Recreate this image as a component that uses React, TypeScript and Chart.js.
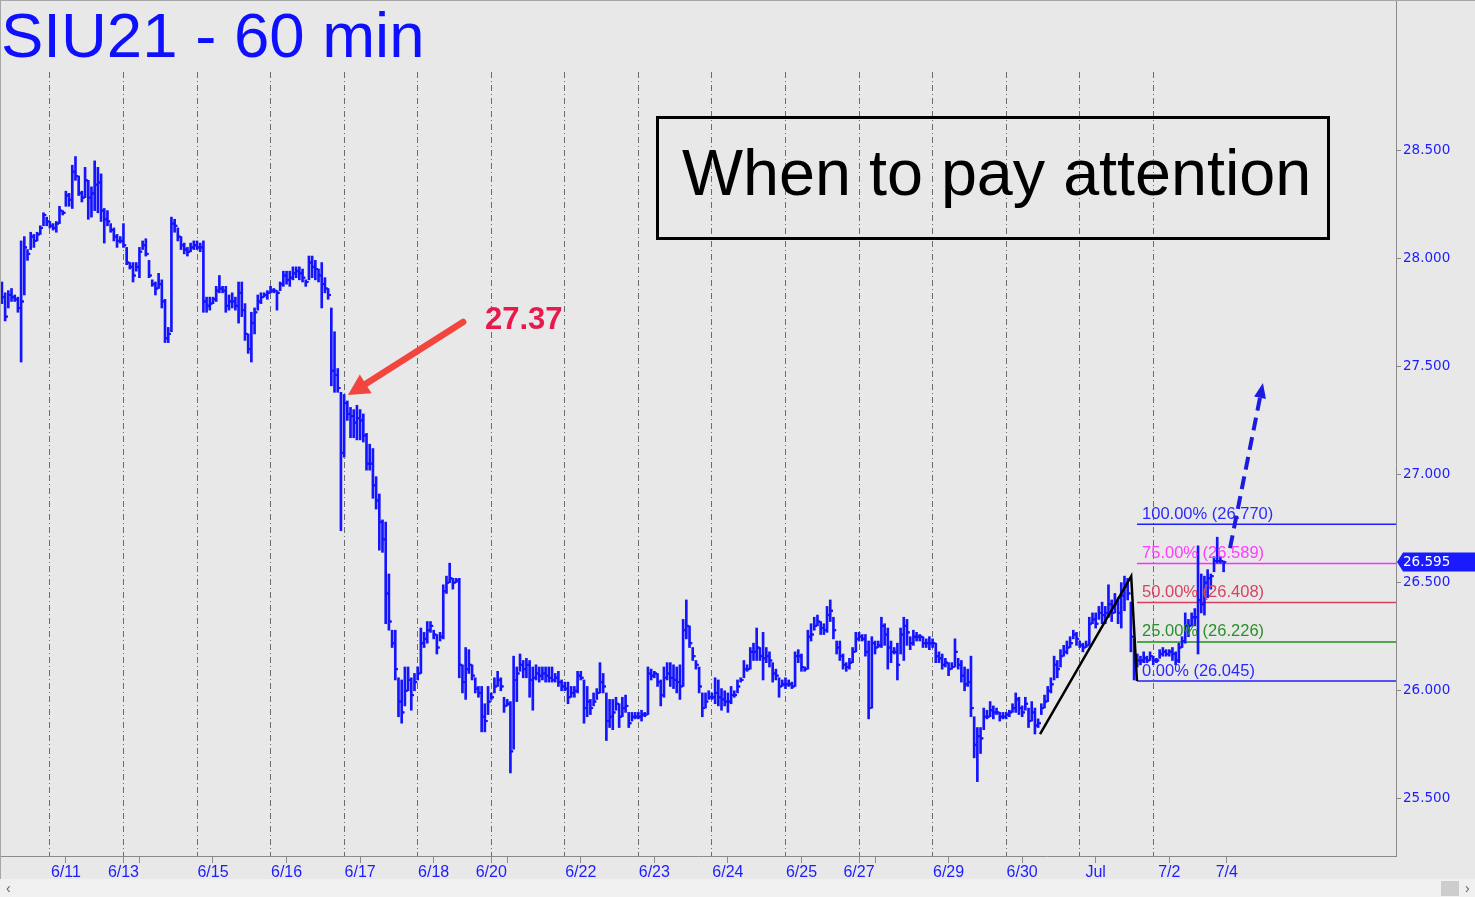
import React, { useEffect, useRef } from "react";
import { Chart, registerables } from "chart.js";

Chart.register(...registerables);

// ---- data (60-min bars, SIU21) ----
const FIRST_BAR_INDEX = -15;

const highs = [
  27.89, 27.84, 27.85, 27.86, 27.83, 27.82, 28.08, 28.10, 28.04, 28.12, 28.11, 28.12, 28.15, 28.21, 28.19,
  28.17, 28.16, 28.17, 28.24, 28.22, 28.31, 28.30, 28.43, 28.47, 28.38, 28.31, 28.42, 28.36, 28.33, 28.45, 28.42, 28.39, 28.23, 28.22, 28.16, 28.14, 28.11, 28.10,
  28.16, 28.05, 27.98, 27.98, 27.98, 28.05, 28.08, 28.09, 27.99, 27.90, 27.89, 27.93, 27.90, 27.81, 27.68, 28.19, 28.18, 28.14, 28.10, 28.07, 28.05, 28.07, 28.08,
  28.08, 28.07, 28.08, 27.82, 27.82, 27.82, 27.87, 27.92, 27.87, 27.87, 27.83, 27.84, 27.82, 27.89, 27.89, 27.79, 27.65, 27.75, 27.77, 27.83, 27.84, 27.84, 27.85,
  27.87, 27.86, 27.85, 27.89, 27.94, 27.94, 27.94, 27.96, 27.96, 27.96, 27.95, 27.90, 28.01, 28.01, 27.99, 27.95, 27.98, 27.91, 27.86, 27.77, 27.66, 27.49, 27.38,
  27.37, 27.34, 27.31, 27.30, 27.32, 27.30, 27.28, 27.19, 27.14, 27.12, 26.99, 26.91, 26.79, 26.78, 26.54, 26.28, 26.28, 26.06, 26.05, 26.11, 26.11, 26.06, 26.08,
  26.11, 26.29, 26.27, 26.32, 26.32, 26.28, 26.26, 26.27, 26.49, 26.53, 26.59, 26.52, 26.52, 26.52, 26.12, 26.20, 26.19, 26.12, 26.06, 26.02, 26.02, 25.94, 26.02,
  25.99, 26.06, 26.09, 26.06, 25.97, 25.96, 25.95, 26.16, 26.11, 26.17, 26.14, 26.15, 26.14, 26.11, 26.12, 26.11, 26.11, 26.11, 26.11, 26.11, 26.08, 26.09, 26.05,
  26.04, 26.04, 26.02, 26.02, 26.09, 26.09, 26.05, 26.02, 25.96, 25.99, 26.01, 26.13, 26.08, 25.99, 25.96, 25.96, 25.97, 25.94, 25.97, 25.98, 25.90, 25.90, 25.90,
  25.90, 25.91, 25.90, 26.11, 26.10, 26.09, 26.08, 26.05, 26.11, 26.13, 26.13, 26.12, 26.11, 26.12, 26.33, 26.42, 26.30, 26.20, 26.14, 26.11, 25.99, 25.99, 26.00,
  25.99, 26.06, 26.05, 26.01, 26.00, 25.99, 26.02, 26.00, 26.05, 26.06, 26.14, 26.12, 26.20, 26.22, 26.29, 26.20, 26.27, 26.20, 26.18, 26.13, 26.10, 26.06, 26.05,
  26.06, 26.05, 26.04, 26.18, 26.19, 26.17, 26.11, 26.28, 26.31, 26.34, 26.35, 26.32, 26.31, 26.39, 26.42, 26.34, 26.23, 26.23, 26.17, 26.13, 26.15, 26.20, 26.27,
  26.27, 26.26, 26.26, 26.23, 26.25, 26.23, 26.23, 26.34, 26.31, 26.29, 26.23, 26.20, 26.22, 26.29, 26.34, 26.33, 26.25, 26.28, 26.27, 26.26, 26.25, 26.24, 26.25,
  26.24, 26.22, 26.18, 26.17, 26.15, 26.13, 26.13, 26.24, 26.15, 26.14, 26.11, 26.10, 26.16, 25.88, 25.83, 25.83, 25.92, 25.91, 25.95, 25.93, 25.92, 25.90, 25.90,
  25.90, 25.91, 25.94, 25.99, 25.97, 25.93, 25.97, 25.92, 25.95, 25.92, 25.87, 25.94, 25.98, 26.02, 26.06, 26.16, 26.14, 26.19, 26.21, 26.23, 26.25, 26.28, 26.27,
  26.23, 26.22, 26.23, 26.34, 26.36, 26.36, 26.39, 26.41, 26.39, 26.49, 26.42, 26.45, 26.43, 26.50, 26.53, 26.52, 26.41, 26.24, 26.17, 26.16, 26.18, 26.16, 26.18,
  26.16, 26.15, 26.19, 26.20, 26.19, 26.19, 26.20, 26.18, 26.22, 26.25, 26.36, 26.33, 26.36, 26.38, 26.67, 26.54, 26.53, 26.56, 26.54, 26.62, 26.71, 26.62, 26.60,
];

const lows = [
  27.79, 27.71, 27.77, 27.80, 27.80, 27.75, 27.52, 27.83, 27.99, 28.04, 28.05, 28.08, 28.11, 28.15, 28.15,
  28.14, 28.13, 28.12, 28.16, 28.20, 28.24, 28.24, 28.23, 28.36, 28.29, 28.26, 28.28, 28.18, 28.19, 28.22, 28.21, 28.17, 28.07, 28.15, 28.12, 28.08, 28.05, 28.07,
  28.05, 27.97, 27.95, 27.89, 27.94, 27.91, 28.04, 28.01, 27.91, 27.87, 27.83, 27.86, 27.77, 27.61, 27.61, 27.66, 28.12, 28.08, 28.04, 28.02, 28.01, 28.03, 28.04,
  28.04, 28.03, 27.75, 27.75, 27.76, 27.79, 27.80, 27.84, 27.84, 27.75, 27.76, 27.77, 27.76, 27.70, 27.73, 27.62, 27.56, 27.52, 27.65, 27.76, 27.79, 27.82, 27.81,
  27.84, 27.84, 27.76, 27.85, 27.87, 27.88, 27.87, 27.90, 27.91, 27.90, 27.89, 27.87, 27.90, 27.91, 27.90, 27.89, 27.77, 27.84, 27.81, 27.41, 27.38, 27.38, 26.74,
  27.08, 27.25, 27.17, 27.17, 27.16, 27.16, 27.15, 27.02, 27.02, 26.89, 26.84, 26.65, 26.64, 26.31, 26.28, 26.20, 26.05, 25.88, 25.85, 25.93, 26.00, 25.91, 26.00,
  26.05, 26.08, 26.20, 26.22, 26.27, 26.24, 26.17, 26.23, 26.24, 26.45, 26.50, 26.47, 26.50, 26.06, 25.99, 25.96, 26.08, 26.05, 25.99, 25.97, 25.81, 25.81, 25.89,
  25.96, 25.99, 26.02, 26.00, 25.90, 25.93, 25.62, 25.73, 25.95, 26.09, 26.06, 26.06, 25.97, 25.91, 26.05, 26.04, 26.05, 26.04, 26.04, 26.04, 26.04, 26.02, 26.00,
  26.00, 25.94, 25.97, 25.97, 25.99, 26.05, 25.85, 25.88, 25.89, 25.93, 25.96, 25.99, 25.99, 25.77, 25.83, 25.82, 25.91, 25.83, 25.88, 25.90, 25.83, 25.86, 25.87,
  25.87, 25.86, 25.88, 25.89, 26.05, 26.06, 26.02, 25.93, 25.97, 26.05, 26.02, 26.01, 25.99, 25.96, 26.02, 26.24, 26.20, 26.14, 26.10, 25.99, 25.88, 25.92, 25.96,
  25.96, 25.94, 25.93, 25.91, 25.93, 25.90, 25.94, 25.97, 25.99, 26.04, 26.06, 26.09, 26.10, 26.14, 26.14, 26.14, 26.05, 26.13, 26.11, 26.04, 26.05, 25.97, 26.02,
  26.01, 26.02, 26.01, 26.02, 26.13, 26.09, 26.09, 26.10, 26.23, 26.28, 26.30, 26.26, 26.26, 26.27, 26.32, 26.24, 26.17, 26.14, 26.10, 26.09, 26.10, 26.13, 26.18,
  26.23, 26.23, 26.16, 25.87, 25.92, 26.17, 26.20, 26.20, 26.21, 26.10, 26.13, 26.17, 26.05, 26.17, 26.14, 26.21, 26.19, 26.21, 26.23, 26.23, 26.20, 26.20, 26.19,
  26.20, 26.13, 26.13, 26.10, 26.11, 26.07, 26.10, 26.11, 26.10, 26.04, 26.00, 26.02, 25.88, 25.69, 25.58, 25.71, 25.82, 25.87, 25.88, 25.87, 25.89, 25.86, 25.87,
  25.87, 25.88, 25.90, 25.90, 25.89, 25.88, 25.91, 25.83, 25.86, 25.80, 25.83, 25.89, 25.92, 25.95, 25.99, 26.05, 26.06, 26.11, 26.16, 26.17, 26.20, 26.24, 26.21,
  26.20, 26.18, 26.20, 26.21, 26.31, 26.29, 26.33, 26.31, 26.31, 26.34, 26.32, 26.36, 26.31, 26.29, 26.37, 26.42, 26.18, 26.05, 26.11, 26.12, 26.13, 26.13, 26.14,
  26.12, 26.13, 26.15, 26.16, 26.16, 26.16, 26.14, 26.12, 26.13, 26.20, 26.22, 26.25, 26.30, 26.30, 26.17, 26.36, 26.35, 26.43, 26.47, 26.55, 26.59, 26.59, 26.55,
];

const closes = [
  27.82, 27.73, 27.83, 27.82, 27.81, 27.77, 27.80, 28.05, 28.02, 28.10, 28.08, 28.11, 28.14, 28.20, 28.17,
  28.15, 28.14, 28.16, 28.22, 28.21, 28.29, 28.27, 28.40, 28.38, 28.30, 28.28, 28.36, 28.28, 28.30, 28.34, 28.35, 28.22, 28.18, 28.17, 28.13, 28.10, 28.08, 28.08,
  28.06, 27.98, 27.96, 27.92, 27.96, 28.03, 28.06, 28.02, 27.92, 27.88, 27.86, 27.88, 27.80, 27.63, 27.65, 28.16, 28.15, 28.10, 28.06, 28.04, 28.03, 28.05, 28.06,
  28.05, 28.05, 27.80, 27.78, 27.79, 27.81, 27.85, 27.86, 27.85, 27.78, 27.80, 27.80, 27.78, 27.84, 27.76, 27.65, 27.58, 27.70, 27.75, 27.80, 27.82, 27.83, 27.84,
  27.85, 27.85, 27.84, 27.88, 27.92, 27.90, 27.91, 27.93, 27.94, 27.93, 27.91, 27.89, 27.98, 27.96, 27.95, 27.92, 27.88, 27.86, 27.83, 27.48, 27.46, 27.40, 27.10,
  27.33, 27.28, 27.27, 27.24, 27.26, 27.25, 27.18, 27.05, 27.05, 26.95, 26.88, 26.78, 26.70, 26.45, 26.32, 26.22, 26.10, 25.95, 25.90, 26.00, 26.05, 25.98, 26.04,
  26.08, 26.22, 26.24, 26.28, 26.30, 26.26, 26.20, 26.25, 26.46, 26.50, 26.52, 26.50, 26.51, 26.12, 26.04, 26.10, 26.12, 26.07, 26.01, 25.99, 25.88, 25.86, 25.95,
  25.97, 26.02, 26.05, 26.02, 25.93, 25.94, 25.72, 26.05, 26.08, 26.12, 26.10, 26.12, 26.05, 26.06, 26.08, 26.07, 26.08, 26.07, 26.06, 26.05, 26.06, 26.04, 26.02,
  26.01, 25.97, 25.99, 26.00, 26.07, 26.06, 25.92, 25.95, 25.92, 25.95, 25.99, 26.04, 26.02, 25.86, 25.88, 25.90, 25.94, 25.88, 25.92, 25.93, 25.85, 25.88, 25.88,
  25.88, 25.89, 25.89, 26.08, 26.07, 26.08, 26.04, 25.98, 26.06, 26.08, 26.06, 26.05, 26.04, 26.02, 26.28, 26.30, 26.22, 26.16, 26.12, 26.02, 25.92, 25.95, 25.97,
  25.97, 25.99, 25.97, 25.96, 25.95, 25.95, 25.98, 25.98, 26.02, 26.05, 26.10, 26.10, 26.18, 26.18, 26.20, 26.16, 26.15, 26.16, 26.14, 26.08, 26.07, 26.02, 26.03,
  26.03, 26.03, 26.02, 26.16, 26.16, 26.11, 26.10, 26.25, 26.26, 26.30, 26.32, 26.29, 26.28, 26.35, 26.37, 26.28, 26.20, 26.16, 26.12, 26.11, 26.13, 26.18, 26.24,
  26.25, 26.24, 26.18, 25.92, 26.22, 26.20, 26.21, 26.30, 26.26, 26.20, 26.18, 26.18, 26.12, 26.26, 26.30, 26.27, 26.22, 26.25, 26.25, 26.25, 26.22, 26.22, 26.22,
  26.22, 26.16, 26.15, 26.12, 26.13, 26.10, 26.11, 26.18, 26.12, 26.07, 26.03, 26.04, 25.92, 25.75, 25.79, 25.78, 25.88, 25.88, 25.91, 25.90, 25.90, 25.88, 25.88,
  25.89, 25.90, 25.92, 25.96, 25.92, 25.90, 25.94, 25.86, 25.90, 25.84, 25.85, 25.92, 25.95, 26.00, 26.03, 26.12, 26.10, 26.16, 26.18, 26.20, 26.22, 26.26, 26.24,
  26.21, 26.20, 26.21, 26.31, 26.33, 26.31, 26.36, 26.35, 26.36, 26.40, 26.36, 26.40, 26.36, 26.44, 26.48, 26.45, 26.25, 26.12, 26.14, 26.14, 26.15, 26.14, 26.16,
  26.14, 26.14, 26.17, 26.18, 26.17, 26.18, 26.17, 26.14, 26.20, 26.23, 26.30, 26.30, 26.34, 26.34, 26.42, 26.40, 26.50, 26.52, 26.53, 26.60, 26.60, 26.60, 26.595,
];

// x axis: bar index (23 bars per session)
const tickPositions = [5, 23, 28, 51, 74, 97, 120, 138, 143, 166, 189, 212, 235, 253, 258, 281, 304, 327, 350, 368];
const tickLabels = ["6/11", "6/13", "", "6/15", "6/16", "6/17", "6/18", "6/20", "", "6/22", "6/23", "6/24", "6/25", "6/27", "", "6/29", "6/30", "Jul", "7/2", "7/4"];
const sessionStarts = [0, 23, 46, 69, 92, 115, 138, 161, 184, 207, 230, 253, 276, 299, 322, 345];
const priceTicks = [25.5, 26.0, 26.5, 27.0, 27.5, 28.0, 28.5];

// annotations
const fibLevels = [26.77, 26.589, 26.408, 26.226, 26.045];
const fibNames = ["100.00%", "75.00%", "50.00%", "25.00%", "0.00%"];
const fibLineColors = ["#1f1fff", "#ff2cff", "#d9405c", "#1f8f1f", "#1f1fff"];
const fibTextColors = ["#2a2aff", "#ff3cff", "#d8425e", "#2a8f2a", "#2a2aff"];
const fibStartX = 339.9;
const fibLabelX = 341.5;
const swingX = [309.6, 338.1, 339.9];
const swingY = [25.8, 26.53, 26.045];
const lastPrice = 26.595;
const calloutArrowX = [129.2, 93.2];
const calloutArrowY = [27.705, 27.367];
const targetArrowX = [369.0, 379.3];
const targetArrowY = [26.66, 27.423];

const X_MIN = -15.6;
const X_MAX = 420.9;
const Y_MIN = 25.236;
const Y_MAX = 28.861;

const BAR_BLUE = "#1414ff";
const LABEL_BLUE = "#1c1cff";
const BG = "#e8e8e8";

const zeroPadding = (s: any) => {
  s.paddingLeft = 0;
  s.paddingRight = 0;
  s.paddingTop = 0;
  s.paddingBottom = 0;
};

const overlayPlugin = {
  id: "overlayPlugin",
  beforeDraw(chart: any) {
    const { ctx, chartArea } = chart;
    ctx.save();
    ctx.strokeStyle = "#8a8a8a";
    ctx.lineWidth = 1;
    ctx.beginPath();
    ctx.moveTo(Math.round(chartArea.right) + 0.5, 0);
    ctx.lineTo(Math.round(chartArea.right) + 0.5, chartArea.top);
    ctx.stroke();
    ctx.restore();
  },
  afterDatasetsDraw(chart: any) {
    const { ctx, chartArea } = chart;
    const x = chart.scales.x;
    const y = chart.scales.y;
    ctx.save();
    ctx.beginPath();
    ctx.rect(chartArea.left, 0, chartArea.right - chartArea.left, chartArea.bottom);
    ctx.clip();

    // fibonacci labels
    ctx.font = '16.5px "Liberation Sans", Arial, sans-serif';
    ctx.textAlign = "left";
    ctx.textBaseline = "alphabetic";
    fibLevels.forEach((lv, k) => {
      ctx.fillStyle = fibTextColors[k];
      ctx.fillText(`${fibNames[k]} (${lv.toFixed(3)})`, x.getPixelForValue(fibLabelX), y.getPixelForValue(lv) - 5.5);
    });

    // red callout arrow
    {
      const x0 = x.getPixelForValue(calloutArrowX[0]);
      const y0 = y.getPixelForValue(calloutArrowY[0]);
      const x1 = x.getPixelForValue(calloutArrowX[1]);
      const y1 = y.getPixelForValue(calloutArrowY[1]);
      const a = Math.atan2(y1 - y0, x1 - x0);
      const headLen = 21;
      const half = 11;
      const bx = x1 - headLen * Math.cos(a);
      const by = y1 - headLen * Math.sin(a);
      ctx.strokeStyle = "#f2453d";
      ctx.fillStyle = "#f2453d";
      ctx.lineWidth = 6.5;
      ctx.lineCap = "round";
      ctx.beginPath();
      ctx.moveTo(x0, y0);
      ctx.lineTo(bx + 2 * Math.cos(a), by + 2 * Math.sin(a));
      ctx.stroke();
      ctx.beginPath();
      ctx.moveTo(x1, y1);
      ctx.lineTo(bx + half * Math.sin(a), by - half * Math.cos(a));
      ctx.lineTo(bx - half * Math.sin(a), by + half * Math.cos(a));
      ctx.closePath();
      ctx.fill();
    }

    // blue dashed target arrow
    {
      const x0 = x.getPixelForValue(targetArrowX[0]);
      const y0 = y.getPixelForValue(targetArrowY[0]);
      const x1 = x.getPixelForValue(targetArrowX[1]);
      const y1 = y.getPixelForValue(targetArrowY[1]);
      const a = Math.atan2(y1 - y0, x1 - x0);
      const headLen = 15;
      const half = 6;
      const bx = x1 - headLen * Math.cos(a);
      const by = y1 - headLen * Math.sin(a);
      ctx.strokeStyle = "#1c1ce0";
      ctx.fillStyle = "#1c1ce0";
      ctx.lineWidth = 4;
      ctx.lineCap = "butt";
      ctx.setLineDash([13, 7]);
      ctx.beginPath();
      ctx.moveTo(x0, y0);
      ctx.lineTo(bx, by);
      ctx.stroke();
      ctx.setLineDash([]);
      ctx.beginPath();
      ctx.moveTo(x1, y1);
      ctx.lineTo(bx + half * Math.sin(a), by - half * Math.cos(a));
      ctx.lineTo(bx - half * Math.sin(a), by + half * Math.cos(a));
      ctx.closePath();
      ctx.fill();
    }
    ctx.restore();
  },
  afterDraw(chart: any) {
    const { ctx, chartArea } = chart;
    const y = chart.scales.y;
    const py = y.getPixelForValue(lastPrice);
    const left = chartArea.right + 1;
    const right = chart.width;
    ctx.save();
    ctx.fillStyle = "#1a1aff";
    ctx.beginPath();
    ctx.moveTo(left, py);
    ctx.lineTo(left + 6, py - 9.5);
    ctx.lineTo(right, py - 9.5);
    ctx.lineTo(right, py + 9.5);
    ctx.lineTo(left + 6, py + 9.5);
    ctx.closePath();
    ctx.fill();
    ctx.fillStyle = "#ffffff";
    ctx.font = '13.5px "DejaVu Sans", Verdana, sans-serif';
    ctx.textAlign = "left";
    ctx.textBaseline = "middle";
    ctx.fillText(lastPrice.toFixed(3), left + 6, py + 0.5);
    ctx.restore();
  },
};

export default function App() {
  const canvasRef = useRef<HTMLCanvasElement | null>(null);

  useEffect(() => {
    const canvas = canvasRef.current;
    if (!canvas) return;

    const barPoints = highs.map((h, k) => ({ x: FIRST_BAR_INDEX + k, y: [lows[k], h] }));
    const closePoints = closes.map((c, k) => ({ x: FIRST_BAR_INDEX + k + 0.5, y: c }));
    const openPoints = closes.slice(0, -1).map((c, k) => ({ x: FIRST_BAR_INDEX + k + 0.5, y: c }));

    const fibDatasets = fibLevels.map((lv, k) => ({
      type: "line" as const,
      data: [
        { x: fibStartX, y: lv },
        { x: X_MAX, y: lv },
      ],
      borderColor: fibLineColors[k],
      borderWidth: 1.5,
      pointRadius: 0,
      order: 5,
    }));

    const tickStyle = {
      type: "line",
      showLine: false,
      pointStyle: "line",
      pointRadius: 1.1,
      pointBorderWidth: 2,
      pointBorderColor: BAR_BLUE,
      pointBackgroundColor: BAR_BLUE,
      pointHoverRadius: 0,
      order: 1,
    };

    const chart = new Chart(canvas, {
      type: "bar",
      data: {
        datasets: [
          {
            type: "bar",
            data: barPoints as any,
            backgroundColor: BAR_BLUE,
            borderWidth: 0,
            barThickness: 2,
            grouped: false,
            order: 2,
          } as any,
          { ...tickStyle, data: closePoints } as any,
          { ...tickStyle, data: openPoints } as any,
          ...(fibDatasets as any[]),
          {
            type: "line",
            data: swingX.map((v, k) => ({ x: v, y: swingY[k] })),
            borderColor: "#000000",
            borderWidth: 2.5,
            pointRadius: 0,
            order: -1,
          } as any,
        ],
      },
      options: {
        responsive: false,
        animation: false,
        events: [],
        layout: { autoPadding: false, padding: { top: 72, left: 0, right: 0, bottom: 0 } },
        plugins: {
          legend: { display: false },
          tooltip: { enabled: false },
          title: { display: false },
        },
        scales: {
          x: {
            type: "linear",
            position: "bottom",
            min: X_MIN,
            max: X_MAX,
            offset: false,
            afterBuildTicks: (s: any) => {
              s.ticks = tickPositions.map((v) => ({ value: v }));
            },
            afterFit: (s: any) => {
              s.height = 41;
              zeroPadding(s);
            },
            ticks: {
              autoSkip: false,
              maxRotation: 0,
              minRotation: 0,
              padding: 0,
              color: LABEL_BLUE,
              font: { family: '"Liberation Sans", Arial, sans-serif', size: 16 },
              callback: (_v: any, i: number) => tickLabels[i],
            },
            grid: {
              drawOnChartArea: false,
              drawTicks: true,
              tickLength: 7,
              color: "#8a8a8a",
              offset: false,
            },
            border: { display: true, color: "#8a8a8a", width: 1 },
          },
          x2: {
            type: "linear",
            position: "bottom",
            min: X_MIN,
            max: X_MAX,
            offset: false,
            afterBuildTicks: (s: any) => {
              s.ticks = sessionStarts.map((v) => ({ value: v }));
            },
            afterFit: (s: any) => {
              s.height = 0;
              zeroPadding(s);
            },
            ticks: { display: false, padding: 0 },
            grid: {
              drawOnChartArea: true,
              drawTicks: false,
              color: "#6c6c6c",
              lineWidth: 1,
              offset: false,
            },
            border: { display: false, dash: [6, 3, 1, 3] },
          },
          y: {
            type: "linear",
            position: "right",
            min: Y_MIN,
            max: Y_MAX,
            beginAtZero: false,
            afterBuildTicks: (s: any) => {
              s.ticks = priceTicks.map((v) => ({ value: v }));
            },
            afterFit: (s: any) => {
              s.width = 79;
              zeroPadding(s);
            },
            ticks: {
              padding: 2,
              color: LABEL_BLUE,
              font: { family: '"DejaVu Sans", Verdana, sans-serif', size: 13.5 },
              callback: (v: any) => Number(v).toFixed(3),
            },
            grid: {
              drawOnChartArea: false,
              drawTicks: true,
              tickLength: 5,
              color: "#8a8a8a",
            },
            border: { display: true, color: "#8a8a8a", width: 1 },
          },
        },
      } as any,
      plugins: [overlayPlugin],
    });

    return () => {
      chart.destroy();
    };
  }, []);

  return (
    <div
      style={{
        position: "absolute",
        left: 0,
        top: 0,
        width: 1475,
        height: 897,
        background: BG,
        overflow: "hidden",
        fontFamily: '"Liberation Sans", Arial, sans-serif',
      }}
    >
      <canvas ref={canvasRef} width={1475} height={897} style={{ display: "block", width: 1475, height: 897 }} />
      <div
        style={{
          position: "absolute",
          left: 0,
          top: 0,
          width: 1475,
          height: 897,
          borderTop: "1px solid #a6a6a6",
          borderLeft: "1px solid #a6a6a6",
          boxSizing: "border-box",
          pointerEvents: "none",
        }}
      />
      <div
        style={{
          position: "absolute",
          left: 1,
          top: 4,
          fontSize: 63.5,
          lineHeight: 1,
          color: "#0f0fff",
          whiteSpace: "nowrap",
        }}
      >
        SIU21 - 60 min
      </div>
      <div
        style={{
          position: "absolute",
          left: 656,
          top: 116,
          width: 674,
          height: 124,
          border: "3px solid #000",
          boxSizing: "border-box",
        }}
      />
      <div
        style={{
          position: "absolute",
          left: 682,
          top: 141,
          fontSize: 64.7,
          lineHeight: 1,
          color: "#000",
          whiteSpace: "nowrap",
        }}
      >
        When to pay attention
      </div>
      <div
        style={{
          position: "absolute",
          left: 485,
          top: 303,
          fontSize: 31,
          fontWeight: "bold",
          lineHeight: 1,
          color: "#e81a4b",
          whiteSpace: "nowrap",
        }}
      >
        27.37
      </div>
      <div
        style={{
          position: "absolute",
          left: 0,
          top: 879,
          width: 1475,
          height: 18,
          background: "#f0f0f0",
        }}
      >
        <div style={{ position: "absolute", left: 6, top: 0, fontSize: 14, lineHeight: "18px", color: "#606060" }}>‹</div>
        <div style={{ position: "absolute", left: 1441, top: 2, width: 18, height: 15, background: "#cdcdcd" }} />
        <div style={{ position: "absolute", left: 1465, top: 0, fontSize: 14, lineHeight: "18px", color: "#606060" }}>›</div>
      </div>
    </div>
  );
}
